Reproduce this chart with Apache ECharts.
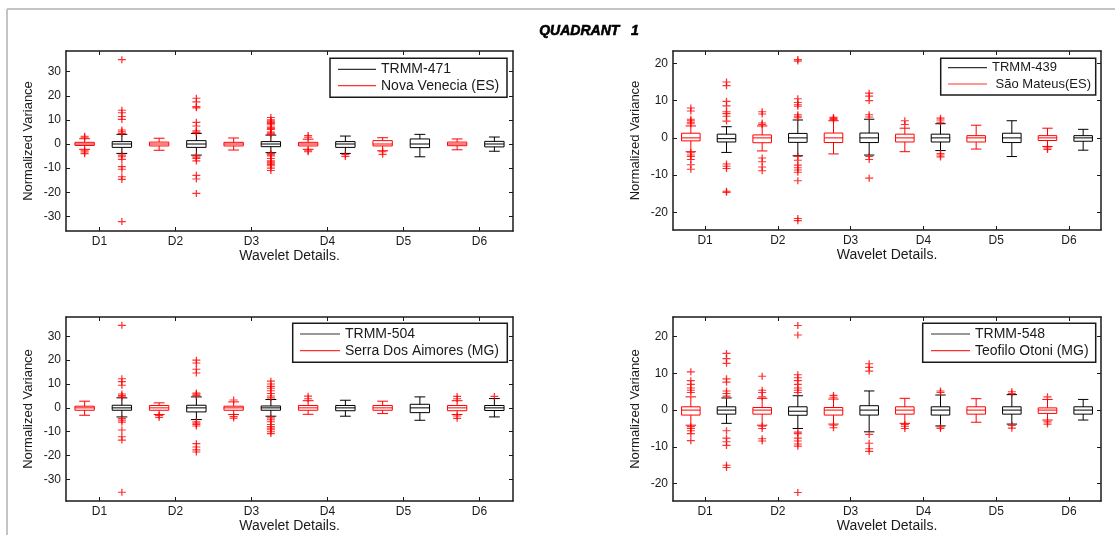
<!DOCTYPE html>
<html>
<head>
<meta charset="utf-8">
<script src="https://cdn.jsdelivr.net/npm/echarts@6/dist/echarts.min.js"></script>
<style>html,body{margin:0;padding:0;background:#fff;}#c{width:1115px;height:537px;}</style>
</head>
<body>
<div id="c"></div>
<script>
// ---------------- DATA ----------------
const tickLabels = ['D1', 'D2', 'D3', 'D4', 'D5', 'D6'];
const tickPos = [1.4, 3.44, 5.48, 7.52, 9.56, 11.6];
const stationPos = [1, 3, 5, 7, 9, 11];
const trmmPos = [2, 4, 6, 8, 10, 12];

const trmmNames = ['TRMM-471', 'TRMM-439', 'TRMM-504', 'TRMM-548'];
const stationNames = ['Nova Venecia (ES)', ' São Mateus(ES)', 'Serra Dos Aimores (MG)', 'Teofilo Otoni (MG)'];

// boxes: [lowWhisker, Q1, median, Q3, highWhisker]
const tlStationBoxes = [[-2.2,-0.6,0,0.7,2.2],[-2.6,-0.8,0,0.8,2.4],[-2.5,-0.8,0,0.7,2.5],[-2.2,-0.8,0,0.7,2.0],[-2.8,-0.8,0,1.4,2.6],[-2.4,-0.7,0,0.8,2.1]];
const tlStationOut = [[2.8,3.2,-2.8,-3.3,-4.0],[],[],[2.8,3.5,-2.8,-3.2],[-3.2,-4.3],[]];
const tlTrmmBoxes = [[-3.9,-1.4,0,1.0,4.0],[-4.6,-1.4,0,1.4,4.4],[-3.6,-1.1,0,1.0,3.7],[-3.9,-1.4,0,1.0,3.3],[-5.3,-1.5,0,2.1,4.0],[-3.0,-1.2,0,1.1,2.9]];
const tlTrmmOut = [
  [35,14,13,11.4,10.2,5.8,5.1,4.4,-4.6,-5.3,-6.4,-9.4,-10.5,-13.6,-14.7,-32.2],
  [19,17.5,15.5,15,9,7.5,5.5,5,4.7,-5,-5.5,-6,-7,-13,-14.5,-20.5],
  [11,10,9.5,9,8.5,8,7,6.5,6,5,4.5,4,-4,-4.5,-5,-6,-7,-7.5,-8,-8.5,-9,-10,-11],
  [-4.4,-5.2],[],[]
];

const trStationBoxes = [[-3.7,-0.8,0,1.25,3.2],[-3.5,-1.3,0,0.8,3.2],[-4.3,-1.25,0,1.3,4.6],[-3.7,-1.1,0,1.0,2.6],[-3.0,-1.1,0,0.6,3.4],[-2.3,-0.7,0,0.6,2.6]];
const trStationOut = [[8,7.2,5,4.6,4.2,3.8,-4,-4.6,-5,-5.8,-7.2,-8.4],[7,6.4,4,3.6,-5.4,-6.4,-7.8,-8.8],[5.5,5.2,4.9],[4.6,3.6],[],[-2.7,-3.1]];
const trTrmmBoxes = [[-3.9,-1.1,-0.2,1.0,3.0],[-4.8,-1.2,0,1.2,4.8],[-4.6,-1.25,0,1.3,5.0],[-3.4,-1.1,0,1.0,3.8],[-5.0,-1.25,0,1.25,4.6],[-3.3,-0.9,0,0.6,2.3]];
const trTrmmOut = [
  [15,14,9.8,8.6,7,6.5,5.8,4.5,-7,-7.6,-8.2,-14.3,-14.6],
  [21,20.6,10.5,9.5,8.9,8.5,6.2,5.8,5.4,-5,-6,-7.3,-8,-8.6,-9.2,-11.5,-21.6,-22.2],
  [12,11.2,10,6.2,5.6,-5,-5.8,-10.8],
  [5.3,4.8,4.2,-4.2,-4.6,-5.1],[],[]
];

const blStationBoxes = [[-3.1,-1.0,0,0.7,2.8],[-2.8,-1.0,0,1.0,2.1],[-2.8,-1.0,0,0.7,2.5],[-2.7,-1.0,0,1.0,3.0],[-2.4,-1.0,0,1.0,2.8],[-2.8,-1.2,0,1.0,3.0]];
const blStationOut = [[],[-3.2,-4],[3.3,-3.6,-4.3],[4.9,3.8],[],[4.8,3.8,-3.4,-4.4]];
const blTrmmBoxes = [[-3.8,-1.0,0,1.1,4.2],[-4.9,-1.7,0,1.1,4.6],[-3.5,-1.0,0,0.8,3.5],[-3.5,-1.2,0,1.0,3.2],[-5.2,-2.0,0,1.5,4.6],[-3.8,-1.1,0,1.0,3.9]];
const blTrmmOut = [
  [34.6,12.2,11,9.5,5.8,5.2,4.6,-4.5,-5.2,-6,-9.3,-12.1,-13.5,-35.4],
  [20,18.8,16.2,14.6,6.2,5.7,5.2,-5.8,-6.4,-7,-7.6,-15,-16.4,-17.6,-18.5],
  [11.2,10,9,8.2,7.2,6,5,4.2,-4.2,-5,-5.8,-7,-7.8,-8.5,-9.2,-10,-10.8],
  [],[],[4.8]
];

const brStationBoxes = [[-4.1,-1.35,0,0.9,3.6],[-4.1,-1.1,0,0.7,3.2],[-3.8,-1.35,0,0.7,3.0],[-3.6,-1.1,0,0.9,3.2],[-3.3,-1.1,0,0.9,3.1],[-2.7,-0.9,0,0.6,2.9]];
const brStationOut = [[10.4,8,7,6,5.4,4.8,-4.5,-5,-5.6,-6.4,-8.3],[9.2,5.4,4.8,3.6,-4.4,-5,-7.8,-8.4],[4,3.5,-4.1,-4.8],[-3.9,-4.4,-5],[],[3.6,-3.2,-3.8]];
const brTrmmBoxes = [[-3.6,-1.1,0,0.9,3.3],[-5.0,-1.4,-0.3,0.9,3.9],[-5.9,-1.35,0,1.2,5.2],[-4.3,-1.35,0,0.9,4.1],[-3.8,-1.1,0,0.9,4.2],[-2.7,-1.1,0,0.9,2.9]];
const brTrmmOut = [
  [15.4,14,12.7,8.5,7.6,5.2,4.5,3.8,-5.6,-7.6,-8.6,-9.6,-15,-15.6],
  [23,20.4,9.6,8.8,8,7,6,5.4,4.8,-6,-6.4,-7.6,-8.4,-9.2,-9.8,-22.4],
  [12.6,11.6,10.6,-6.6,-9,-10.5,-11.2],
  [5.2,4.8,-4.6,-5],[5.0,4.5,-4.2,-4.9],[]
];

const yRanges = [[-36.1, 38.6], [-24.7, 23.3], [-39.05, 38.1], [-24.7, 25.3]];
const yTicks = [[-30,-20,-10,0,10,20,30],[-20,-10,0,10,20],[-30,-20,-10,0,10,20,30],[-20,-10,0,10,20]];

// ---------------- LAYOUT / STYLE ----------------
const panels = [
  {st: tlStationBoxes, stO: tlStationOut, tr: tlTrmmBoxes, trO: tlTrmmOut},
  {st: trStationBoxes, stO: trStationOut, tr: trTrmmBoxes, trO: trTrmmOut},
  {st: blStationBoxes, stO: blStationOut, tr: blTrmmBoxes, trO: blTrmmOut},
  {st: brStationBoxes, stO: brStationOut, tr: brTrmmBoxes, trO: brTrmmOut}
];
const grids = [
  {left: 66, top: 51, width: 447, height: 180},
  {left: 673, top: 51, width: 428, height: 179},
  {left: 66, top: 317, width: 447, height: 184},
  {left: 673, top: 317, width: 428, height: 184}
];
const legendBoxes = [
  {x: 330, y: 58.3, w: 177, h: 39, lx: 338, ly: 62.3, gap: 2.4, iw: 38, fs: 14},
  {x: 940.7, y: 58.3, w: 155, h: 36.7, lx: 948, ly: 60.7, gap: 2.3, iw: 39, fs: 13},
  {x: 292.7, y: 323.3, w: 214.6, h: 39, lx: 300, ly: 327, gap: 2.7, iw: 40, fs: 14},
  {x: 922.7, y: 323.3, w: 173, h: 39, lx: 931, ly: 327, gap: 2.7, iw: 39, fs: 14}
];
const RED = '#ff0000';
const BLACK = '#000000';
const AXC = '#1a1a1a';
const FONT = 'Liberation Sans, Arial, Helvetica, sans-serif';
const BOX_W = 0.52;

function boxRenderer(color) {
  return function (params, api) {
    const x = api.value(0);
    const pLo = api.coord([x, api.value(1)]);
    const pQ1 = api.coord([x, api.value(2)]);
    const pMd = api.coord([x, api.value(3)]);
    const pQ3 = api.coord([x, api.value(4)]);
    const pHi = api.coord([x, api.value(5)]);
    const w = api.size([BOX_W, 0])[0];
    const cx = pQ1[0];
    const hw = w / 2, cw = w * 0.28;
    const style = {stroke: color, fill: null, lineWidth: 1};
    return {
      type: 'group',
      children: [
        {type: 'rect', shape: {x: cx - hw, y: pQ3[1], width: w, height: pQ1[1] - pQ3[1]}, style: style},
        {type: 'line', shape: {x1: cx - hw, y1: pMd[1], x2: cx + hw, y2: pMd[1]}, style: style},
        {type: 'line', shape: {x1: cx, y1: pQ3[1], x2: cx, y2: pHi[1]}, style: style},
        {type: 'line', shape: {x1: cx, y1: pQ1[1], x2: cx, y2: pLo[1]}, style: style},
        {type: 'line', shape: {x1: cx - cw, y1: pHi[1], x2: cx + cw, y2: pHi[1]}, style: style},
        {type: 'line', shape: {x1: cx - cw, y1: pLo[1], x2: cx + cw, y2: pLo[1]}, style: style}
      ]
    };
  };
}

function boxData(boxes, positions) {
  return boxes.map((b, i) => [positions[i]].concat(b));
}
function outlierData(outs, positions) {
  const res = [];
  outs.forEach((list, i) => list.forEach(v => res.push([positions[i], v])));
  return res;
}

const xAxes = [], yAxes = [], series = [], legends = [], graphics = [];
const PLUS = 'path://M0,5L10,5M5,0L5,10';

panels.forEach((p, g) => {
  xAxes.push({
    gridIndex: g, type: 'value', min: 0.5, max: 12.5, position: 'bottom',
    name: 'Wavelet Details.', nameLocation: 'middle', nameGap: 16,
    nameTextStyle: {fontFamily: FONT, fontSize: 14, color: AXC},
    axisLine: {show: true, onZero: false, lineStyle: {color: AXC, width: 1.5}},
    axisTick: {show: true, inside: true, length: 4, customValues: tickPos, lineStyle: {color: AXC}},
    axisLabel: {show: true, margin: 5, fontFamily: FONT, fontSize: 12, color: AXC, customValues: tickPos,
      formatter: function (v) {
        for (let i = 0; i < tickPos.length; i++) if (Math.abs(tickPos[i] - v) < 1e-6) return tickLabels[i];
        return '';
      }},
    splitLine: {show: false}
  });
  xAxes.push({
    gridIndex: g, type: 'value', min: 0.5, max: 12.5, position: 'top',
    axisLine: {show: true, onZero: false, lineStyle: {color: AXC, width: 1.5}},
    axisTick: {show: true, inside: true, length: 4, customValues: tickPos, lineStyle: {color: AXC}},
    axisLabel: {show: false},
    splitLine: {show: false}
  });
  yAxes.push({
    gridIndex: g, type: 'value', min: yRanges[g][0], max: yRanges[g][1], position: 'left',
    name: 'Normalized Variance', nameLocation: 'middle', nameGap: 31.5, nameRotate: 90,
    nameTextStyle: {fontFamily: FONT, fontSize: 13, color: AXC},
    axisLine: {show: true, onZero: false, lineStyle: {color: AXC, width: 1.5}},
    axisTick: {show: true, inside: true, length: 4, customValues: yTicks[g], lineStyle: {color: AXC}},
    axisLabel: {show: true, margin: 5, fontFamily: FONT, fontSize: 12, color: AXC, customValues: yTicks[g]},
    splitLine: {show: false}
  });
  yAxes.push({
    gridIndex: g, type: 'value', min: yRanges[g][0], max: yRanges[g][1], position: 'right',
    axisLine: {show: true, onZero: false, lineStyle: {color: AXC, width: 1.5}},
    axisTick: {show: true, inside: true, length: 4, customValues: yTicks[g], lineStyle: {color: AXC}},
    axisLabel: {show: false},
    splitLine: {show: false}
  });

  series.push({
    type: 'custom', name: stationNames[g], xAxisIndex: 2 * g, yAxisIndex: 2 * g,
    renderItem: boxRenderer(RED), data: boxData(p.st, stationPos),
    encode: {x: 0, y: [1, 2, 3, 4, 5]}, itemStyle: {color: RED}, z: 3
  });
  series.push({
    type: 'custom', name: trmmNames[g], xAxisIndex: 2 * g, yAxisIndex: 2 * g,
    renderItem: boxRenderer(BLACK), data: boxData(p.tr, trmmPos),
    encode: {x: 0, y: [1, 2, 3, 4, 5]}, itemStyle: {color: BLACK}, z: 3
  });
  series.push({
    type: 'scatter', name: 'outliers-' + g, xAxisIndex: 2 * g, yAxisIndex: 2 * g,
    symbol: PLUS, symbolSize: [8, 7],
    itemStyle: {color: 'none', borderColor: RED, borderWidth: 1.2},
    data: outlierData(p.stO, stationPos).concat(outlierData(p.trO, trmmPos)), z: 4
  });

  const lb = legendBoxes[g];
  legends.push({
    left: lb.lx, top: lb.ly, orient: 'vertical', padding: 0, itemGap: lb.gap,
    itemWidth: lb.iw, itemHeight: 1.2, icon: 'rect', selectedMode: false, z: 10,
    textStyle: {fontFamily: FONT, fontSize: lb.fs, color: AXC, lineHeight: 14},
    data: [
      {name: trmmNames[g], itemStyle: {color: '#333333', borderWidth: 0}},
      {name: stationNames[g], itemStyle: {color: '#ff3030', borderWidth: 0}}
    ]
  });
  graphics.push({
    type: 'rect', shape: {x: lb.x, y: lb.y, width: lb.w, height: lb.h},
    style: {fill: '#fff', stroke: AXC, lineWidth: 1.5}, z: 6
  });
});

graphics.push({type: 'line', shape: {x1: 7, y1: 9, x2: 1115, y2: 9}, style: {stroke: '#c4c4c4', lineWidth: 2}, z: 0});
graphics.push({type: 'line', shape: {x1: 7, y1: 9, x2: 7, y2: 535}, style: {stroke: '#c4c4c4', lineWidth: 2}, z: 0});
graphics.push({
  type: 'text', x: 589, y: 31, z: 0,
  style: {text: 'QUADRANT   1', font: 'italic 900 14px ' + FONT, fill: '#000', align: 'center', verticalAlign: 'middle',
    stroke: '#000', lineWidth: 0.6}
});

const chart = echarts.init(document.getElementById('c'), null, {renderer: 'canvas'});
chart.setOption({
  animation: false,
  backgroundColor: '#fff',
  grid: grids.map(gr => Object.assign({containLabel: false}, gr)),
  xAxis: xAxes,
  yAxis: yAxes,
  legend: legends,
  series: series,
  graphic: {elements: graphics}
});
</script>
</body>
</html>
